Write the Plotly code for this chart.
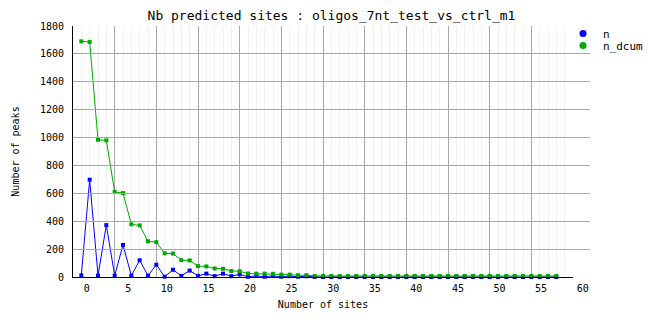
import plotly.graph_objects as go

# ---- data ----
x_sites = list(range(-1, 57))
n = [12, 698, 10, 372, 10, 230, 10, 120, 10, 88,
     2, 52, 8, 46, 8, 24, 6, 24, 6, 19,
     2, 8, 2, 8, 2, 6, 2, 5, 1, 0,
     0, 0, 0, 0, 0, 0, 0, 0, 0, 0,
     0, 0, 0, 0, 0, 0, 0, 0, 0, 0,
     0, 0, 0, 0, 0, 0, 0, 0]
n_dcum = [1690, 1686, 984, 980, 610, 602, 378, 370, 256, 250,
          170, 168, 121, 119, 78, 76, 61, 59, 43, 41,
          25, 24, 24, 23, 17, 17, 13, 13, 7, 7,
          7, 7, 7, 7, 7, 7, 7, 7, 7, 7,
          7, 7, 7, 7, 7, 7, 7, 7, 7, 7,
          7, 7, 7, 7, 7, 7, 7, 7]
x_tick_labels = list(range(0, 61, 5))
y_ticks = list(range(0, 1801, 200))
series_names = ["n", "n_dcum"]
series_colors = ["#0000ff", "#00a800"]

W, H = 662, 328
L, R, T, B = 73, 72, 26, 51
plot_w = 500
paper_w = W - L - R
mono = "DejaVu Sans Mono"

fig = go.Figure()
for name, vals, col in zip(series_names, [n, n_dcum], series_colors):
    fig.add_trace(go.Scatter(
        x=x_sites, y=vals, mode="lines+markers", name=name,
        line=dict(color=col, width=1),
        marker=dict(symbol="square", size=4, color=col),
        showlegend=False, cliponaxis=False,
    ))
# legend-only entries
for i, (name, col) in enumerate(zip(series_names, series_colors)):
    fig.add_trace(go.Scatter(
        x=[None], y=[None], mode="markers", name=name,
        marker=dict(symbol="circle", size=7, color=col),
        legend="legend" if i == 0 else "legend2",
    ))
# empty trace so the tick-label axis gets drawn
fig.add_trace(go.Scatter(x=[None], y=[None], xaxis="x2", yaxis="y",
                         mode="markers", showlegend=False, hoverinfo="skip"))

# label axis scale: right edge of label at 89.7 + 8.317*v (px)
px_per = 8.317
lab_lo = (L - 89.7) / px_per
lab_hi = (L + paper_w - 89.7) / px_per

fig.update_layout(
    width=W, height=H, autosize=False,
    margin=dict(l=L, r=R, t=T, b=B, pad=0),
    paper_bgcolor="white", plot_bgcolor="rgba(0,0,0,0)",
    font=dict(family=mono, size=10, color="black"),
    title=dict(text="Nb predicted sites : oligos_7nt_test_vs_ctrl_m1",
               x=0.5, xref="paper", xanchor="center",
               y=1 - 15 / H, yref="container", yanchor="middle",
               font=dict(family=mono, size=13, color="black")),
    xaxis=dict(domain=[0, plot_w / paper_w], range=[-2, 58],
               tick0=-2, dtick=5, showticklabels=False, ticks="",
               showgrid=True, gridcolor="#a8a8a8", gridwidth=1,
               minor=dict(tick0=-2, dtick=1, showgrid=True,
                          gridcolor="#f1f1f1", gridwidth=1, ticks=""),
               showline=True, linecolor="black", linewidth=1,
               zeroline=False,
               title=dict(text="Number of sites", standoff=23,
                          font=dict(family=mono, size=10))),
    xaxis2=dict(domain=[0, 1], anchor="y", range=[lab_lo, lab_hi],
                tickmode="array", tickvals=x_tick_labels,
                ticktext=[str(v) for v in x_tick_labels],
                ticklabelposition="outside left", ticklabelstandoff=4,
                showgrid=False, showline=False, zeroline=False,
                ticks="", tickfont=dict(family=mono, size=10)),
    yaxis=dict(range=[0, 1800], tickmode="array", tickvals=y_ticks,
               showgrid=True, gridcolor="#a8a8a8", gridwidth=1,
               showline=True, linecolor="black", linewidth=1,
               zeroline=False, ticks="", ticklabelstandoff=6,
               tickfont=dict(family=mono, size=10),
               title=dict(text="Number of peaks", standoff=18,
                          font=dict(family=mono, size=10))),
    legend=dict(x=(563 - L) / paper_w, xanchor="left",
                y=1 + (T - 19) / 251, yanchor="top",
                bgcolor="rgba(0,0,0,0)", borderwidth=0,
                font=dict(family=mono, size=11)),
    legend2=dict(x=(563 - L) / paper_w, xanchor="left",
                 y=1 + (T - 31) / 251, yanchor="top",
                 bgcolor="rgba(0,0,0,0)", borderwidth=0,
                 font=dict(family=mono, size=11)),
)

fig.write_html("out.html")
